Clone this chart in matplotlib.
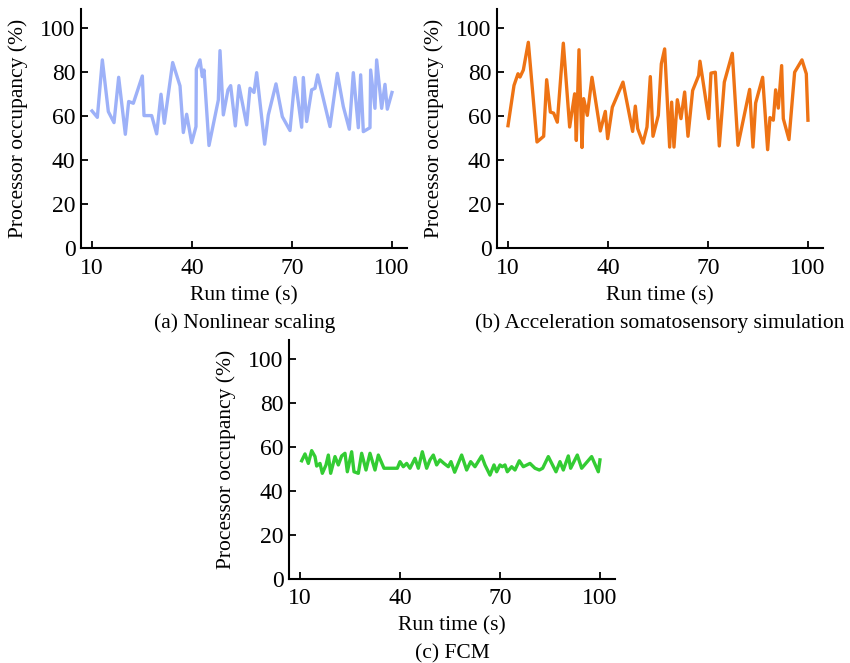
import numpy as np
import matplotlib.pyplot as plt

plt.rcParams['font.family'] = ['Liberation Serif', 'DejaVu Serif']

# (a) Nonlinear scaling
xa = [10, 11.6, 13.1, 14.9, 16.6, 18, 20, 21, 22.4, 25.1, 25.6, 27.9, 29.4, 30.7, 31.7,
      34.2, 36.4, 37.4, 38.4, 39.9, 41.2, 41.3, 42.4, 43.1, 43.6, 45.1, 47.9, 48.4, 49.4,
      50.8, 51.6, 53, 54.1, 56.4, 57.4, 58.6, 59.4, 61.8, 62.9, 65.2, 67.1, 69.4, 70.9,
      72.9, 73.4, 74.4, 75.9, 76.9, 77.7, 81.4, 83.6, 85.4, 87.2, 88.4, 89.9, 90.6, 91.4,
      93.4, 93.6, 94.9, 95.4, 96.9, 97.9, 98.6, 100]
ya = [62.4, 59.5, 85.6, 62.1, 57.1, 77.7, 51.8, 66.7, 65.9, 78.3, 60.3, 60.3, 52, 70, 56.8,
      84.4, 73.8, 52.6, 60.9, 48, 55.3, 81.4, 85.6, 78, 81, 46.7, 67.4, 89.8, 60.6,
      72, 73.9, 55.6, 73.9, 56.1, 72.7, 70.8, 79.8, 47.3, 60.6, 74.7, 59.8, 53.5, 77.6,
      55, 77.6, 57.6, 72, 72.7, 78.8, 55.3, 79.5, 64.4, 54.1, 79.8, 54.8, 78.8, 53,
      54.8, 81, 63.6, 85.6, 63.6, 74.5, 63.2, 70.8]

# (b) Acceleration somatosensory simulation
xb = [10, 11.8, 13, 13.6, 14.6, 16.1, 18.7, 20.7, 21.6, 22.7, 23.7, 24.8, 26.6, 28.5, 30,
      30.5, 31.3, 32.2, 32.7, 33.8, 35.2, 37.7, 39.2, 39.9, 41.3, 44.5, 47.4, 48.2, 48.9,
      50.5, 51.7, 52.7, 53.5, 55.1, 56, 57, 58.5, 59.1, 59.8, 60.8, 61.9, 63, 64, 65.4,
      67.2, 67.6, 70.2, 70.9, 72.2, 73.4, 74.9, 77.3, 79, 82.5, 83.5, 84.3, 86.4, 87.9,
      88.6, 89.6, 90.3, 91.1, 92.1, 92.6, 94.3, 96, 98.2, 99.5, 100]
yb = [55.7, 74, 79.3, 77.8, 81, 93.6, 48.3, 50.9, 76.6, 61.9, 61.4, 57.3, 93.2, 55.1, 70.2,
      49, 90.2, 45.8, 68, 60.4, 77.7, 53.3, 62.2, 49.8, 64.1, 75.5, 53.1, 64.6, 54.4,
      47.8, 55.1, 78, 50.9, 60.4, 83.8, 90.6, 46, 66.4, 46, 67.5, 58.9, 71, 50.9, 71.7,
      78.5, 85, 58.9, 79.6, 80, 46.5, 75.5, 88.6, 46.8, 72.2, 46, 66, 77.7, 44.8,
      59.4, 58.2, 72, 63.7, 83, 58.9, 49.4, 80, 85.6, 79.3, 58.2]

# (c) FCM
xc = [10.5, 11.5, 12.5, 13.5, 14.5, 15, 16, 16.7, 17.8, 18.5, 19.2, 20.5, 21.5, 22.5, 23.5,
      24.2, 25.5, 26.2, 27.5, 28.5, 29.8, 31, 32.5, 33.5, 35.2, 39.2, 40, 41, 42, 43, 44.5,
      45.5, 46.7, 48, 49, 50, 51, 52, 53.2, 54.5, 55.3, 56.4, 58.5, 60, 61.2, 62.5, 64.5,
      65.5, 67, 68.2, 69, 70, 70.7, 71.5, 72.2, 73.5, 74.5, 75.8, 77, 79, 80.5, 81.8, 82.8,
      84.5, 86.8, 88, 89, 90.5, 91.2, 93.2, 94.5, 97.5, 99.5, 100]
yc = [53.6, 56.7, 52.4, 58.2, 55.5, 51.2, 52.4, 47.9, 51.7, 56.2, 47.9, 55.5, 51.7, 55.8, 57,
      48.6, 57.7, 48.6, 47.9, 57, 49.4, 57, 49.4, 56.2, 50.2, 50.2, 53.2, 50.9, 52.4, 50.2, 54.7,
      50.2, 57.7, 50.2, 54, 56.2, 51.7, 54, 52.4, 50.9, 53.2, 48.4, 56.2, 49.4, 53.2, 50.9, 55.8,
      51.7, 47.1, 51.7, 48.6, 51.7, 50.9, 51.7, 48.6, 50.9, 49.4, 53.6, 50.9, 52.4, 50.2, 49.4, 50.2,
      55.5, 48.6, 53.2, 49.4, 55.8, 50.2, 56.2, 50.2, 55.5, 48.6, 54]

panels = [
    (xa, ya, '#9DB1F8', [0.0953, 0.6255, 0.3835, 0.3605], '(a) Nonlinear scaling', 0.288),
    (xb, yb, '#EE7314', [0.5847, 0.6255, 0.3835, 0.3605], '(b) Acceleration somatosensory simulation', 0.776),
    (xc, yc, '#33CC33', [0.340, 0.1271, 0.3835, 0.3605], '(c) FCM', 0.532),
]

fig = plt.figure(figsize=(8.5, 6.63), dpi=100)
for x, y, col, rect, cap, cx in panels:
    ax = fig.add_axes(rect)
    ax.plot(x, y, color=col, lw=2.4)
    ax.set_xlim(6.7, 104.5)
    ax.set_ylim(0, 108.6)
    ax.set_xticks([10, 40, 70, 100])
    ax.set_yticks(range(0, 101, 20))
    ax.spines['top'].set_visible(False)
    ax.spines['right'].set_visible(False)
    ax.spines['left'].set_linewidth(1.5)
    ax.spines['bottom'].set_linewidth(1.5)
    ax.tick_params(direction='in', length=5, width=1.3, labelsize=17)
    ax.tick_params(axis='x', pad=7)
    ax.tick_params(axis='y', pad=4)
    ax.set_xlabel('Run time (s)', fontsize=15.5, labelpad=5)
    ax.set_ylabel('Processor occupancy (%)', fontsize=15.5, labelpad=9)
    fig.text(cx, rect[1] - 0.113, cap, ha='center', va='center', fontsize=15.5)

fig.savefig('out.png', dpi=100)
